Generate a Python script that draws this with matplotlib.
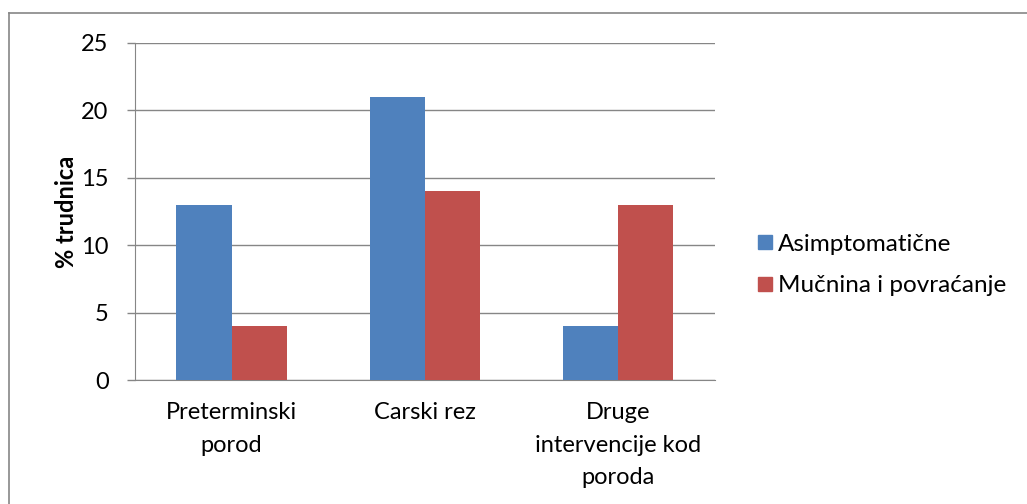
import matplotlib.pyplot as plt
from matplotlib.lines import Line2D
import numpy as np

plt.rcParams["font.family"] = ["Lato", "DejaVu Sans"]

categories = ["Preterminski\nporod", "Carski rez", "Druge\nintervencije kod\nporoda"]
series_names = ["Asimptomatične", "Mučnina i povraćanje"]
asimptomaticne = [13, 21, 4]
mucnina = [4, 14, 13]
colors = ["#4F81BD", "#C0504D"]

fig = plt.figure(figsize=(10.27, 5.04), dpi=100)
ax = fig.add_axes([0.1315, 0.246, 0.5645, 0.669])

x = np.arange(len(categories))
w = 1 / 3.5
ax.bar(x - w / 2, asimptomaticne, w, color=colors[0], label=series_names[0], zorder=3)
ax.bar(x + w / 2, mucnina, w, color=colors[1], label=series_names[1], zorder=3)

ax.set_xlim(-0.5, 2.5)
ax.set_ylim(0, 25)
ax.set_yticks([0, 5, 10, 15, 20, 25])
ax.set_xticks(x)
ax.set_xticklabels(categories, fontsize=17, linespacing=1.68)
ax.tick_params(axis="y", labelsize=17, length=6, color="#868686", width=1, pad=13)
ax.tick_params(axis="x", length=0, pad=16)
ax.grid(axis="y", color="#868686", linewidth=1, zorder=0)
for side in ["top", "right"]:
    ax.spines[side].set_visible(False)
for side in ["left", "bottom"]:
    ax.spines[side].set_color("#868686")
ax.set_ylabel("% trudnica", fontsize=17, fontweight="bold", labelpad=2)

handles = [Line2D([], [], marker="s", linestyle="", markersize=9.5,
                  markerfacecolor=c, markeredgecolor=c) for c in colors]
fig.legend(handles, series_names, loc="center left", bbox_to_anchor=(0.714, 0.474),
           frameon=False, fontsize=17.5, handletextpad=0.15, labelspacing=0.85,
           handlelength=0.8)

# chart border (only left and top visible in the crop)
fig.add_artist(Line2D([0.009, 0.009], [0, 0.974], color="#868686", lw=1.2,
                      transform=fig.transFigure))
fig.add_artist(Line2D([0.009, 1], [0.974, 0.974], color="#868686", lw=1.2,
                      transform=fig.transFigure))

fig.savefig("out.png", dpi=100)
